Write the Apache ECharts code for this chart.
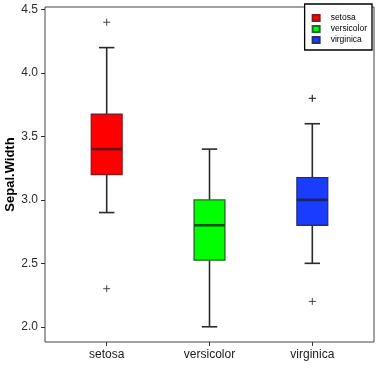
<!DOCTYPE html>
<html><head><meta charset="utf-8">
<script src="https://cdn.jsdelivr.net/npm/echarts@6/dist/echarts.min.js"></script>
<style>html,body{margin:0;padding:0;background:#fff}#c{width:383px;height:372px}</style>
</head><body><div id="c"></div>
<script>
const categories = ['setosa', 'versicolor', 'virginica'];
const whiskerLow = [2.9, 2.0, 2.5];
const q1 = [3.2, 2.525, 2.8];
const median = [3.4, 2.8, 3.0];
const q3 = [3.675, 3.0, 3.175];
const whiskerHigh = [4.2, 3.4, 3.6];
const outlierCat = [0, 0, 2, 2, 2];
const outlierVal = [4.4, 2.3, 3.8, 3.8, 2.2];
const yTicks = [2.0, 2.5, 3.0, 3.5, 4.0, 4.5];
const fills = ['#FF0000', '#00FF00', '#1A3CFF'];
const borders = ['#8B1A1A', '#1F6B1F', '#27306E'];
const medians = ['#6B1212', '#145214', '#1C2360'];

const chart = echarts.init(document.getElementById('c'), null, {renderer: 'canvas'});
const boxSeries = categories.map((name, i) => ({
  name: name,
  type: 'custom',
  itemStyle: {color: fills[i], borderColor: borders[i], borderWidth: 1.2},
  data: [[i + 1, whiskerLow[i], q1[i], median[i], q3[i], whiskerHigh[i]]],
  encode: {x: 0, y: [1, 2, 3, 4, 5]},
  renderItem: function (params, api) {
    const x = api.value(0);
    const pLow = api.coord([x, api.value(1)]);
    const pQ1 = api.coord([x, api.value(2)]);
    const pMed = api.coord([x, api.value(3)]);
    const pQ3 = api.coord([x, api.value(4)]);
    const pHigh = api.coord([x, api.value(5)]);
    const bw = api.size([0.3, 0])[0];
    const cw = api.size([0.15, 0])[0];
    const cx = pMed[0];
    const ws = {stroke: '#2b2b2b', lineWidth: 1.6};
    return {type: 'group', children: [
      {type: 'line', shape: {x1: cx, y1: pQ3[1], x2: cx, y2: pHigh[1]}, style: ws},
      {type: 'line', shape: {x1: cx, y1: pQ1[1], x2: cx, y2: pLow[1]}, style: ws},
      {type: 'line', shape: {x1: cx - cw / 2, y1: pHigh[1], x2: cx + cw / 2, y2: pHigh[1]}, style: ws},
      {type: 'line', shape: {x1: cx - cw / 2, y1: pLow[1], x2: cx + cw / 2, y2: pLow[1]}, style: ws},
      {type: 'rect', shape: {x: cx - bw / 2, y: pQ3[1], width: bw, height: pQ1[1] - pQ3[1]},
        style: {fill: fills[i], stroke: borders[i], lineWidth: 1.3}},
      {type: 'line', shape: {x1: cx - bw / 2, y1: pMed[1], x2: cx + bw / 2, y2: pMed[1]},
        style: {stroke: medians[i], lineWidth: 2.6}}
    ]};
  }
}));

const outlierSeries = {
  name: 'outliers',
  type: 'custom',
  data: outlierCat.map((c, k) => [c + 1, outlierVal[k]]),
  encode: {x: 0, y: 1},
  renderItem: function (params, api) {
    const p = api.coord([api.value(0), api.value(1)]);
    const h = 3.5;
    const st = {stroke: '#333', lineWidth: 0.9};
    return {type: 'group', children: [
      {type: 'line', shape: {x1: p[0] - h, y1: p[1], x2: p[0] + h, y2: p[1]}, style: st},
      {type: 'line', shape: {x1: p[0], y1: p[1] - h, x2: p[0], y2: p[1] + h}, style: st}
    ]};
  }
};

chart.setOption({
  animation: false,
  backgroundColor: '#fff',
  grid: {left: 45, right: 9, top: 7, bottom: 30, outerBoundsMode: 'none', containLabel: false,
    show: true, borderColor: '#444', borderWidth: 1, backgroundColor: 'transparent'},
  xAxis: {
    type: 'value', min: 0.4, max: 3.6,
    splitLine: {show: false},
    axisLine: {show: false},
    axisTick: {show: true, length: 4, lineStyle: {color: '#333'}, customValues: [1, 2, 3]},
    axisLabel: {customValues: [1, 2, 3], formatter: v => categories[Math.round(v) - 1], color: '#1a1a1a',
      fontSize: 12, fontFamily: 'Liberation Sans', margin: 7}
  },
  yAxis: {
    type: 'value', min: 1.88, max: 4.52,
    name: 'Sepal.Width', nameLocation: 'middle', nameGap: 28, nameMoveOverlap: false,
    nameTextStyle: {fontSize: 13, fontWeight: 'bold', color: '#000', fontFamily: 'Liberation Sans'},
    splitLine: {show: false},
    axisLine: {show: false},
    axisTick: {show: true, length: 4, lineStyle: {color: '#333'}, customValues: yTicks},
    axisLabel: {customValues: yTicks, formatter: v => v.toFixed(1), color: '#2e2e2e',
      fontSize: 12, fontFamily: 'Liberation Sans', margin: 7, showMinLabel: true, showMaxLabel: true}
  },
  legend: {
    data: categories,
    orient: 'vertical',
    right: 11, top: 4,
    backgroundColor: '#fff',
    borderColor: '#000', borderWidth: 1.3,
    padding: [9, 5, 5, 7],
    itemWidth: 7, itemHeight: 6, itemGap: 1,
    icon: 'rect',
    textStyle: {fontSize: 8.5, lineHeight: 10, color: '#000', fontFamily: 'Liberation Sans', padding: [0, 0, 0, 6]},
    z: 10
  },
  series: boxSeries.concat([outlierSeries])
});
</script></body></html>
